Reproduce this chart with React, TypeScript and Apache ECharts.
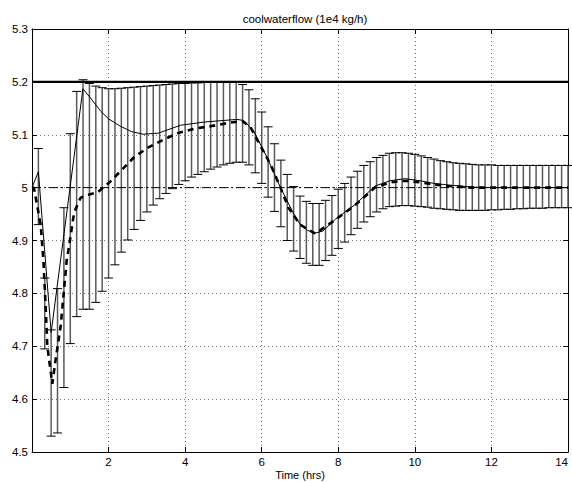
import React, { useEffect, useRef } from "react";
import * as echarts from "echarts";

const TITLE = "coolwaterflow (1e4 kg/h)";
const X_LABEL = "Time (hrs)";
const X_MIN = 0;
const X_MAX = 14;
const X_STEP = 2;
const Y_MIN = 4.5;
const Y_MAX = 5.3;
const Y_STEP = 0.1;
const UPPER_LIMIT = 5.2;
const SETPOINT = 5.0;

// error bars every 10 minutes
const BAR_STEP_HRS = 1 / 6;
const BAR_LOW = [
  4.93, 4.695, 4.53, 4.536, 4.622, 4.705, 4.756, 4.77, 4.77, 4.783,
  4.804, 4.829, 4.854, 4.878, 4.901, 4.921, 4.938, 4.954, 4.967, 4.979,
  4.989, 4.998, 5.006, 5.013, 5.02, 5.025, 5.03, 5.035, 5.039, 5.043,
  5.046, 5.048, 5.048, 5.043, 5.028, 5.008, 4.982, 4.955, 4.926, 4.9,
  4.88, 4.866, 4.857, 4.853, 4.853, 4.862, 4.872, 4.885, 4.897, 4.911,
  4.923, 4.935, 4.945, 4.954, 4.96, 4.964, 4.965, 4.966, 4.966, 4.965,
  4.964, 4.963, 4.961, 4.96, 4.959, 4.958, 4.957, 4.957, 4.957, 4.957,
  4.957, 4.958, 4.958, 4.959, 4.959, 4.96, 4.96, 4.961, 4.961, 4.961,
  4.962, 4.962, 4.962, 4.962,
];
const BAR_HIGH = [
  5.074, 4.829, 4.731, 4.809, 4.962, 5.102, 5.182, 5.204, 5.197, 5.192,
  5.189, 5.187, 5.187, 5.188, 5.189, 5.19, 5.191, 5.192, 5.193, 5.194,
  5.195, 5.196, 5.197, 5.197, 5.198, 5.198, 5.199, 5.2, 5.2, 5.2,
  5.2, 5.2, 5.195, 5.185, 5.168, 5.143, 5.115, 5.083, 5.052, 5.025,
  5.002, 4.984, 4.974, 4.97, 4.97, 4.976, 4.985, 4.997, 5.008, 5.02,
  5.031, 5.042, 5.049, 5.057, 5.061, 5.065, 5.066, 5.066, 5.065, 5.063,
  5.06, 5.057, 5.054, 5.051, 5.049, 5.047, 5.046, 5.045, 5.044, 5.043,
  5.043, 5.043, 5.042, 5.042, 5.042, 5.042, 5.042, 5.042, 5.042, 5.042,
  5.042, 5.042, 5.042, 5.042,
];

const SOLID_T = [
  0, 0.167, 0.5, 1.33, 1.5, 1.79, 2.0, 2.31, 2.6, 2.9, 3.3, 3.88, 4.5, 5.0,
  5.35, 5.53, 5.79, 6.14, 6.49, 6.84, 7.0, 7.2, 7.4, 7.6, 7.92, 8.44, 8.96,
  9.35, 9.75, 10.14, 10.5, 10.87, 11.5, 12, 13, 14,
];
const SOLID_V = [
  5.0, 5.03, 4.726, 5.187, 5.172, 5.145, 5.13, 5.116, 5.106, 5.101, 5.103,
  5.118, 5.124, 5.127, 5.129, 5.127, 5.107, 5.057, 5.0, 4.95, 4.931, 4.919,
  4.914, 4.918, 4.94, 4.968, 5.003, 5.013, 5.017, 5.013, 5.008, 5.005, 5.001,
  5.0, 5.0, 5.0,
];

const DASHED_T = [
  0, 0.05, 0.23, 0.3, 0.36, 0.4, 0.49, 0.53, 0.62, 0.75, 0.83, 0.91, 0.97,
  1.1, 1.27, 1.5, 1.71, 2.01, 2.31, 2.66, 3.01, 3.44, 3.84, 4.27, 4.66, 5.18,
  5.49, 5.7, 5.88, 6.23, 6.49, 6.7, 7.0, 7.4, 7.9, 8.44, 8.96, 9.35, 9.75,
  10.14, 10.5, 10.87, 11.5, 12, 13, 14,
];
const DASHED_V = [
  5.0, 5.0, 4.928, 4.86, 4.77, 4.7, 4.651, 4.629, 4.676, 4.739, 4.802, 4.865,
  4.89, 4.953, 4.981, 4.987, 4.991, 5.009, 5.031, 5.057, 5.075, 5.091, 5.104,
  5.112, 5.116, 5.123, 5.126, 5.115, 5.091, 5.044, 5.0, 4.962, 4.93, 4.913,
  4.938, 4.967, 5.0, 5.01, 5.013, 5.01, 5.006, 5.003, 5.0, 5.0, 5.0, 5.0,
];

const FONT = "'Liberation Sans', Arial, Helvetica, sans-serif";

export default function App() {
  const ref = useRef<HTMLDivElement>(null);

  useEffect(() => {
    if (!ref.current) return;
    const chart = echarts.init(ref.current, undefined, { renderer: "svg" });

    const barData = BAR_LOW.map((lo, i) => [(i + 1) * BAR_STEP_HRS, lo, BAR_HIGH[i]]);
    const solid = SOLID_T.map((t, i) => [t, SOLID_V[i]]);
    const dashed = DASHED_T.map((t, i) => [t, DASHED_V[i]]);

    const tickCommon = {
      show: true,
      inside: true,
      length: 5,
      lineStyle: { color: "#000", width: 1 },
    };
    const lineCommon = { show: true, onZero: false, lineStyle: { color: "#000", width: 1 } };
    const splitCommon = {
      show: true,
      lineStyle: { color: "#000", width: 1, type: [1, 3], opacity: 0.55 },
    };
    const labelStyle = { color: "#000", fontSize: 11.5, fontFamily: FONT };

    chart.setOption({
      animation: false,
      backgroundColor: "#fff",
      title: {
        text: TITLE,
        left: 300,
        top: 8,
        textAlign: "center",
        textStyle: { fontSize: 11.5, fontWeight: "normal", color: "#000", fontFamily: FONT },
      },
      graphic: [
        {
          type: "text",
          x: 300,
          y: 475,
          style: {
            text: X_LABEL,
            fill: "#000",
            font: `11px ${FONT}`,
            textAlign: "center",
            textVerticalAlign: "middle",
          },
        },
      ],
      grid: {
        left: 32,
        right: 4,
        top: 29,
        bottom: 30,
        containLabel: false,
        outerBoundsMode: "none",
      },
      xAxis: [
        {
          type: "value",
          position: "bottom",
          min: X_MIN,
          max: X_MAX,
          interval: X_STEP,
          axisLine: lineCommon,
          axisTick: tickCommon,
          splitLine: splitCommon,
          axisLabel: {
            ...labelStyle,
            margin: 4,
            alignMaxLabel: "right",
            formatter: (v: number) => (v === 0 ? "" : String(v)),
          },
        },
        {
          type: "value",
          position: "top",
          min: X_MIN,
          max: X_MAX,
          interval: X_STEP,
          axisLine: lineCommon,
          axisTick: tickCommon,
          splitLine: { show: false },
          axisLabel: { show: false },
        },
      ],
      yAxis: [
        {
          type: "value",
          position: "left",
          min: Y_MIN,
          max: Y_MAX,
          interval: Y_STEP,
          axisLine: lineCommon,
          axisTick: tickCommon,
          splitLine: splitCommon,
          axisLabel: { ...labelStyle, margin: 4 },
        },
        {
          type: "value",
          position: "right",
          min: Y_MIN,
          max: Y_MAX,
          interval: Y_STEP,
          axisLine: lineCommon,
          axisTick: tickCommon,
          splitLine: { show: false },
          axisLabel: { show: false },
        },
      ],
      series: [
        {
          name: "range",
          type: "custom",
          xAxisIndex: 0,
          yAxisIndex: 0,
          z: 2,
          encode: { x: 0, y: [1, 2] },
          data: barData,
          renderItem: (params: any, api: any) => {
            const x = api.value(0);
            const pLo = api.coord([x, api.value(1)]);
            const pHi = api.coord([x, api.value(2)]);
            const hw = 4.5;
            return {
              type: "group",
              children: [
                {
                  type: "line",
                  shape: { x1: pLo[0], y1: pLo[1], x2: pHi[0], y2: pHi[1] },
                  style: { stroke: "#5a5a5a", lineWidth: 1.5 },
                },
                {
                  type: "line",
                  shape: { x1: pLo[0] - hw, y1: pLo[1], x2: pLo[0] + hw, y2: pLo[1] },
                  style: { stroke: "#000", lineWidth: 1 },
                },
                {
                  type: "line",
                  shape: { x1: pHi[0] - hw, y1: pHi[1], x2: pHi[0] + hw, y2: pHi[1] },
                  style: { stroke: "#000", lineWidth: 1 },
                },
              ],
            };
          },
        },
        {
          name: "upper limit",
          type: "line",
          z: 3,
          showSymbol: false,
          data: [
            [X_MIN, UPPER_LIMIT],
            [X_MAX, UPPER_LIMIT],
          ],
          lineStyle: { color: "#000", width: 2.2 },
        },
        {
          name: "setpoint",
          type: "line",
          z: 3,
          showSymbol: false,
          data: [
            [X_MIN, SETPOINT],
            [X_MAX, SETPOINT],
          ],
          lineStyle: { color: "#000", width: 1, type: [9, 3, 2, 3] },
        },
        {
          name: "solid",
          type: "line",
          z: 4,
          showSymbol: false,
          data: solid,
          lineStyle: { color: "#000", width: 1 },
        },
        {
          name: "dashed",
          type: "line",
          z: 4,
          showSymbol: false,
          data: dashed,
          lineStyle: { color: "#000", width: 2.6, type: [6, 5] },
        },
      ],
    });

    return () => chart.dispose();
  }, []);

  return (
    <div
      ref={ref}
      style={{ position: "fixed", left: 0, top: 0, width: 572, height: 482, background: "#fff" }}
    />
  );
}
